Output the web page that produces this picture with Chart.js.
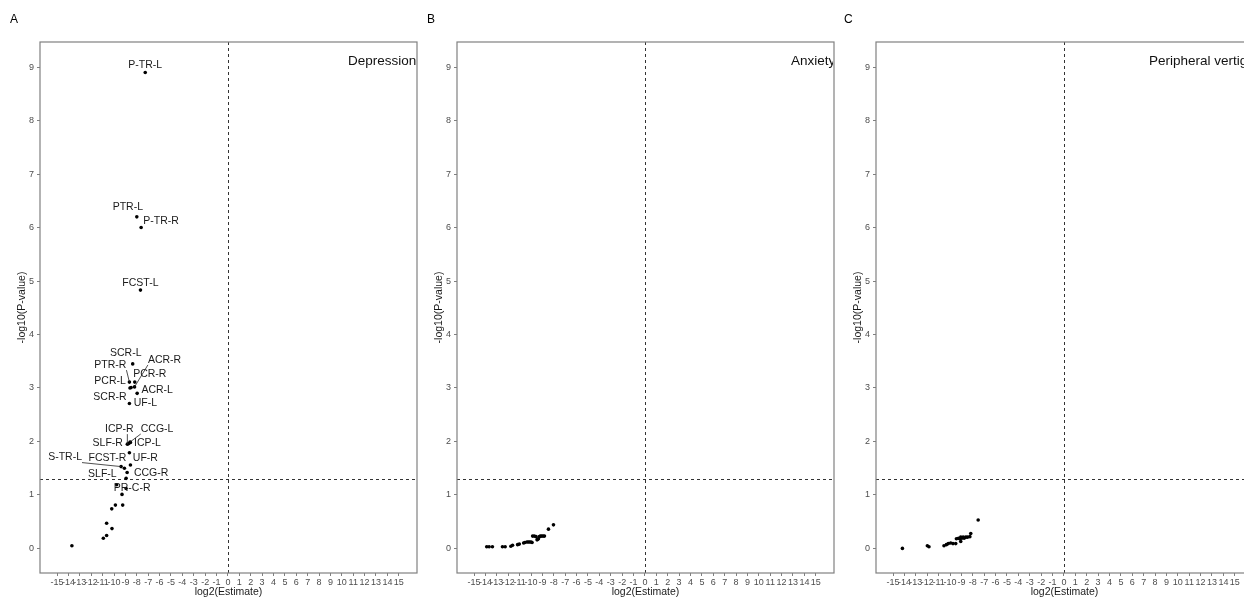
<!DOCTYPE html>
<html>
<head>
<meta charset="utf-8">
<script src="https://cdn.jsdelivr.net/npm/chart.js@4.4.1/dist/chart.umd.min.js"></script>
<style>
  html, body { margin: 0; padding: 0; background: #fff; overflow: hidden; }
  #wrap { position: relative; width: 1244px; height: 598px; overflow: hidden; }
  .panel { position: absolute; top: 0; width: 421px; height: 598px; }
</style>
</head>
<body>
<div id="wrap">
  <div class="panel" style="left:0"><canvas id="chartA" width="421" height="598"></canvas></div>
  <div class="panel" style="left:417px"><canvas id="chartB" width="421" height="598"></canvas></div>
  <div class="panel" style="left:836px"><canvas id="chartC" width="421" height="598"></canvas></div>
</div>
<script>
// axis ticks
const xTicks = [-15,-14,-13,-12,-11,-10,-9,-8,-7,-6,-5,-4,-3,-2,-1,0,1,2,3,4,5,6,7,8,9,10,11,12,13,14,15];
const yTicks = [0,1,2,3,4,5,6,7,8,9];

// Panel A - Depression
const namesA = ['P-TR-L','PTR-L','P-TR-R','FCST-L','SCR-L','PTR-R','PCR-R','PCR-L','ACR-R','ACR-L','SCR-R','UF-L',
  'ICP-R','CCG-L','SLF-R','ICP-L','UF-R','FCST-R','S-TR-L','SLF-L','CCG-R','PR-C-R',
  '','','','','','','','','','',''];
const estA = [-7.26,-8.0,-7.62,-7.68,-8.36,-8.65,-8.18,-8.5,-8.2,-7.97,-8.6,-8.65,
  -8.83,-8.59,-8.71,-8.56,-8.65,-8.56,-9.38,-9.09,-8.85,-8.94,
  -8.94,-9.77,-9.3,-9.88,-9.24,-10.2,-10.65,-10.18,-10.65,-10.94,-13.7];
const pA = [8.90,6.20,6.00,4.83,3.45,3.11,3.11,3.01,3.02,2.90,3.00,2.71,
  1.95,1.99,1.96,1.98,1.79,1.56,1.53,1.50,1.42,1.12,
  1.31,1.19,1.01,0.81,0.81,0.74,0.47,0.37,0.24,0.19,0.05];

// Panel B - Anxiety
const estB = [-13.89,-13.68,-13.39,-12.51,-12.27,-11.77,-11.62,-11.18,-11.03,-10.65,-10.54,-10.36,-10.24,-10.12,-10.0,
  -9.91,-9.86,-9.71,-9.56,-9.47,-9.41,-9.35,-9.27,-9.18,-9.06,-8.94,-8.82,-8.47,-8.03];
const pB = [0.03,0.03,0.03,0.03,0.03,0.04,0.06,0.07,0.08,0.10,0.11,0.12,0.12,0.12,0.12,
  0.11,0.23,0.23,0.22,0.16,0.17,0.18,0.22,0.23,0.23,0.23,0.23,0.36,0.44];

// Panel C - Peripheral vertigo
const estC = [-14.18,-11.99,-11.85,-10.53,-10.32,-10.15,-9.94,-9.74,-9.50,-9.44,-9.26,-9.15,-9.06,-9.06,
  -8.97,-8.85,-8.76,-8.62,-8.47,-8.26,-8.18,-7.53];
const pC = [0.00,0.05,0.03,0.05,0.07,0.09,0.10,0.09,0.09,0.18,0.19,0.18,0.13,0.21,
  0.19,0.21,0.19,0.21,0.21,0.22,0.28,0.53];

const sigLine = 1.3;

// ggrepel-like label placement for panel A (pixel offsets from the point, segment flag)
const labelOffsetsA = [[0,-7],[-9,-10],[20,-6],[0,-7],[-7,-11],[-19,-17],[15,-8],[-21,-6],[30,-27],[20,-3],[-20,9],[16,0],
  [-8,-15],[27,-13],[-21,0],[17,1],[16,5],[-23,-7],[-56,-9],[-22,6],[24,1],[6,0]];
const labelSegA = [false,false,false,false,false,true,false,false,true,false,false,false,
  true,true,false,false,false,false,true,false,false,false];

const FONT = "'Liberation Sans', Arial, sans-serif";

const panelPlugin = {
  id: 'panelDeco',
  beforeDatasetsDraw(chart) {
    const {ctx, chartArea: a, scales: {x, y}} = chart;
    ctx.save();
    ctx.strokeStyle = '#333';
    ctx.lineWidth = 1;
    ctx.setLineDash([3, 3]);
    const x0 = Math.round(x.getPixelForValue(0)) + 0.5;
    const y0 = Math.round(y.getPixelForValue(sigLine)) + 0.5;
    ctx.beginPath();
    ctx.moveTo(x0, a.top); ctx.lineTo(x0, a.bottom);
    ctx.moveTo(a.left, y0); ctx.lineTo(a.right, y0);
    ctx.stroke();
    ctx.restore();
  },
  afterDraw(chart) {
    const {ctx, chartArea: a} = chart;
    const o = chart.options.plugins.panelDeco;
    ctx.save();
    ctx.strokeStyle = '#808080';
    ctx.lineWidth = 1.2;
    ctx.strokeRect(a.left, a.top, a.right - a.left, a.bottom - a.top);
    ctx.fillStyle = '#000';
    ctx.font = '12px ' + FONT;
    ctx.textBaseline = 'middle';
    ctx.textAlign = 'left';
    ctx.fillText(o.letter, o.letterX, 20);
    ctx.beginPath();
    ctx.rect(a.left, a.top, a.right - a.left - 1, a.bottom - a.top);
    ctx.clip();
    ctx.font = '13.5px ' + FONT;
    ctx.fillStyle = '#111';
    ctx.fillText(o.title, o.titleX, 61);
    ctx.restore();
  }
};

const labelPlugin = {
  id: 'pointLabels',
  afterDatasetsDraw(chart) {
    const o = chart.options.plugins.pointLabels;
    if (!o || !o.names) return;
    const {ctx} = chart;
    const meta = chart.getDatasetMeta(0);
    ctx.save();
    ctx.font = '10.5px ' + FONT;
    ctx.textAlign = 'center';
    ctx.textBaseline = 'middle';
    o.names.forEach((name, i) => {
      if (!name) return;
      const pt = meta.data[i];
      const [dx, dy] = o.offsets[i];
      const lx = pt.x + dx, ly = pt.y + dy;
      if (o.segs[i]) {
        const w = ctx.measureText(name).width / 2, h = 5;
        const sx = Math.min(Math.max(pt.x, lx - w), lx + w);
        const sy = Math.min(Math.max(pt.y, ly - h), ly + h);
        ctx.strokeStyle = '#222';
        ctx.lineWidth = 0.8;
        ctx.beginPath();
        ctx.moveTo(sx, sy);
        ctx.lineTo(pt.x, pt.y);
        ctx.stroke();
      }
      ctx.fillStyle = '#1a1a1a';
      ctx.fillText(name, lx, ly);
    });
    ctx.restore();
  }
};

function makeChart(id, xs, ys, deco, labels) {
  return new Chart(document.getElementById(id), {
    type: 'scatter',
    data: {
      datasets: [{
        data: xs.map((v, i) => ({x: v, y: ys[i]})),
        backgroundColor: '#000',
        borderWidth: 0,
        pointRadius: 1.8
      }]
    },
    options: {
      responsive: false,
      animation: false,
      events: [],
      layout: {padding: {left: 0, right: 1, top: 42, bottom: 0}},
      scales: {
        x: {
          type: 'linear', min: -16.5, max: 16.6,
          afterBuildTicks: s => { s.ticks = xTicks.map(v => ({value: v})); },
          afterFit: s => { s.height = 25; s.paddingLeft = 0; s.paddingRight = 0; },
          grid: {drawOnChartArea: false, drawTicks: true, tickLength: 3, color: '#808080'},
          border: {display: false},
          ticks: {autoSkip: false, maxRotation: 0, padding: 1, color: '#4d4d4d', font: {family: FONT, size: 9}},
          title: {display: true, text: 'log2(Estimate)', color: '#1a1a1a', padding: {top: 0, bottom: 0}, font: {family: FONT, size: 10.5}}
        },
        y: {
          type: 'linear', min: -0.46, max: 9.47,
          afterBuildTicks: s => { s.ticks = yTicks.map(v => ({value: v})); },
          afterFit: s => { s.width = 40; s.paddingTop = 0; s.paddingBottom = 0; },
          grid: {drawOnChartArea: false, drawTicks: true, tickLength: 3, color: '#808080'},
          border: {display: false},
          ticks: {padding: 3, color: '#4d4d4d', font: {family: FONT, size: 9}},
          title: {display: true, text: '-log10(P-value)', color: '#1a1a1a', padding: {top: 16, bottom: 0}, font: {family: FONT, size: 10.5}}
        }
      },
      plugins: {
        legend: {display: false},
        tooltip: {enabled: false},
        panelDeco: deco,
        pointLabels: labels || {}
      }
    },
    plugins: [panelPlugin, labelPlugin]
  });
}

makeChart('chartA', estA, pA, {letter: 'A', letterX: 10, title: 'Depression', titleX: 348},
  {names: namesA, offsets: labelOffsetsA, segs: labelSegA});
makeChart('chartB', estB, pB, {letter: 'B', letterX: 10, title: 'Anxiety', titleX: 374},
  {});
makeChart('chartC', estC, pC, {letter: 'C', letterX: 8, title: 'Peripheral vertigo', titleX: 313});
</script>
</body>
</html>
